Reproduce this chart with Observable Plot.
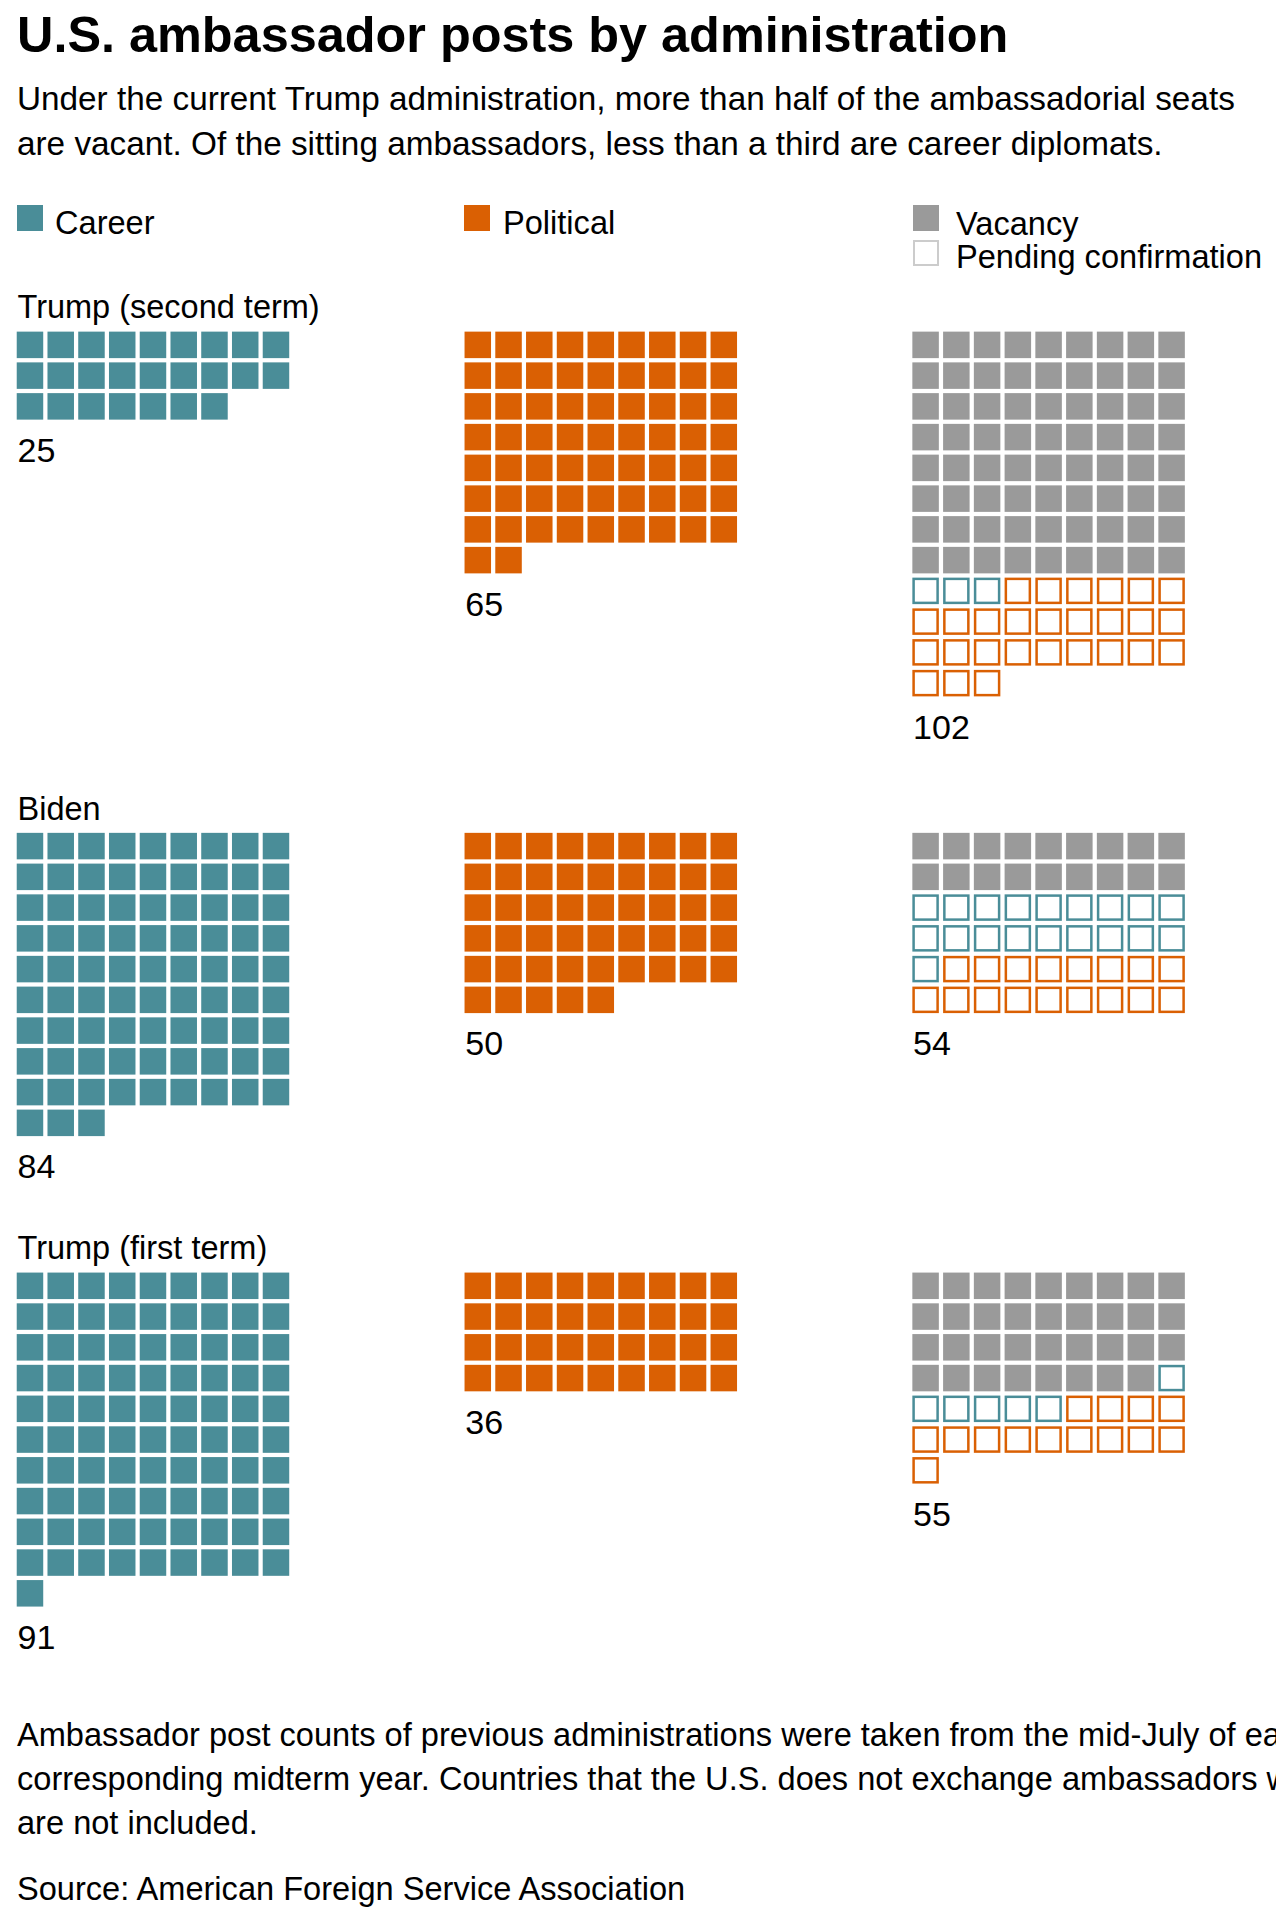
<!DOCTYPE html>
<html>
<head>
<meta charset="utf-8">
<script src="https://cdn.jsdelivr.net/npm/d3@7"></script>
<script src="https://cdn.jsdelivr.net/npm/@observablehq/plot@0.6"></script>
<style>
html, body { margin: 0; padding: 0; background: #fff; overflow: hidden; }
body { width: 1276px; height: 1932px; position: relative; font-family: "Liberation Sans", Arial, sans-serif; color: #000; }
.abs { position: absolute; white-space: nowrap; }
#title { left: 17px; top: 10px; font-size: 50.4px; line-height: 50px; font-weight: bold; }
#subtitle { left: 17px; top: 76px; font-size: 33.3px; line-height: 45px; }
.leg { font-size: 32.6px; line-height: 32px; }
.sw { position: absolute; width: 26px; height: 26px; box-sizing: border-box; }
#note { left: 17px; top: 1713px; font-size: 32.6px; line-height: 44px; }
#source { left: 17px; top: 1873px; font-size: 32.6px; line-height: 32px; }
#chart { position: absolute; left: 0; top: 268px; }
</style>
</head>
<body>
<div id="title" class="abs">U.S. ambassador posts by administration</div>
<div id="subtitle" class="abs">Under the current Trump administration, more than half of the ambassadorial seats<br>are vacant. Of the sitting ambassadors, less than a third are career diplomats.</div>
<div id="legend"></div>
<div id="chart"></div>
<div id="note" class="abs">Ambassador post counts of previous administrations were taken from the mid-July of each<br>corresponding midterm year. Countries that the U.S. does not exchange ambassadors with<br>are not included.</div>
<div id="source" class="abs">Source: American Foreign Service Association</div>
<script>
// ---- data ----
const administrations = ["Trump (second term)", "Biden", "Trump (first term)"];
const career = [25, 84, 91];
const political = [65, 50, 36];
const vacant = [72, 18, 35];            // vacant, no nominee
const pendingCareer = [3, 19, 6];       // pending confirmation, career nominee
const pendingPolitical = [27, 17, 14];  // pending confirmation, political nominee
const legendLabels = ["Career", "Political", "Vacancy", "Pending confirmation"];

// ---- style ----
const teal = "#4a8d98", orange = "#da6003", gray = "#9a9a9a", pendingGray = "#cccccc";
const unit = 30.75;        // px per cell
const perRow = 9;
const groupStride = 14.563; // cells between category columns
const labelGap = 1.29;     // from grid bottom to number baseline (cells)
const sectionGap = 3.01;   // from number baseline to next grid top (cells)
const x0 = 14.6;           // left edge of first cell column (px)

// ---- legend (HTML) ----
const legend = document.getElementById("legend");
const legItems = [
  {label: legendLabels[0], left: 17, top: 205, fill: teal, tx: 55, base: 234.5},
  {label: legendLabels[1], left: 464, top: 205, fill: orange, tx: 503, base: 234.5},
  {label: legendLabels[2], left: 913, top: 205, fill: gray, tx: 956, base: 235.5},
  {label: legendLabels[3], left: 913, top: 240, stroke: pendingGray, tx: 956, base: 269}
];
for (const it of legItems) {
  const sw = document.createElement("div");
  sw.className = "sw";
  sw.style.left = it.left + "px"; sw.style.top = it.top + "px";
  if (it.fill) sw.style.background = it.fill;
  else { sw.style.background = "#fff"; sw.style.border = "2.5px solid " + it.stroke; }
  legend.appendChild(sw);
  const t = document.createElement("div");
  t.className = "abs leg";
  t.textContent = it.label;
  t.style.left = it.tx + "px";
  t.style.top = (it.base - 27.9) + "px";
  legend.appendChild(t);
}

// ---- build cells ----
const sectionTop = [];
let acc = 0;
const cells = [];
const totals = [];
administrations.forEach((admin, i) => {
  const groups = [
    [{n: career[i], kind: "fill", color: teal}],
    [{n: political[i], kind: "fill", color: orange}],
    [{n: vacant[i], kind: "fill", color: gray},
     {n: pendingCareer[i], kind: "outline", color: teal},
     {n: pendingPolitical[i], kind: "outline", color: orange}]
  ];
  sectionTop.push(acc);
  let maxRows = 0;
  groups.forEach((parts, g) => {
    let k = 0;
    for (const p of parts) {
      for (let j = 0; j < p.n; j++, k++) {
        cells.push({admin, group: g, col: k % perRow, row: Math.floor(k / perRow), top: acc, kind: p.kind, color: p.color});
      }
    }
    const rows = Math.ceil(k / perRow);
    maxRows = Math.max(maxRows, rows);
    totals.push({admin, group: g, value: k, rows, top: acc});
  });
  acc += maxRows + labelGap + sectionGap;
});

const H = 1420;
const filled = cells.filter(d => d.kind === "fill");
const outlined = cells.filter(d => d.kind === "outline");
const labels = administrations.map((a, i) => ({admin: a, top: sectionTop[i]}));

const chart = Plot.plot({
  width: 1276,
  height: H,
  marginTop: 0, marginBottom: 0, marginLeft: 0, marginRight: 0,
  style: {fontFamily: "'Liberation Sans', Arial, sans-serif", background: "transparent", overflow: "visible"},
  x: {type: "linear", domain: [0, (1276 - x0) / unit], range: [x0, 1276], axis: null},
  y: {type: "linear", domain: [-2, H / unit - 2], range: [0, H], axis: null},
  marks: [
    Plot.rect(filled, {
      x1: d => d.group * groupStride + d.col,
      x2: d => d.group * groupStride + d.col + 1,
      y1: d => d.top + d.row,
      y2: d => d.top + d.row + 1,
      fill: d => d.color,
      inset: 2.125
    }),
    Plot.rect(outlined, {
      x1: d => d.group * groupStride + d.col,
      x2: d => d.group * groupStride + d.col + 1,
      y1: d => d.top + d.row,
      y2: d => d.top + d.row + 1,
      fill: "white",
      stroke: d => d.color,
      strokeWidth: 2.5,
      inset: 3.375
    }),
    Plot.text(labels, {
      x: 0,
      y: d => d.top - 0.38,
      dx: 2.4,
      text: d => d.admin,
      textAnchor: "start",
      lineAnchor: "bottom",
      fontSize: 32.5,
      fill: "#000"
    }),
    Plot.text(totals, {
      x: d => d.group * groupStride,
      y: d => d.top + d.rows + labelGap,
      dx: 2.4,
      text: d => String(d.value),
      textAnchor: "start",
      lineAnchor: "bottom",
      fontSize: 34,
      fill: "#000"
    })
  ]
});
document.getElementById("chart").appendChild(chart);
</script>
</body>
</html>
